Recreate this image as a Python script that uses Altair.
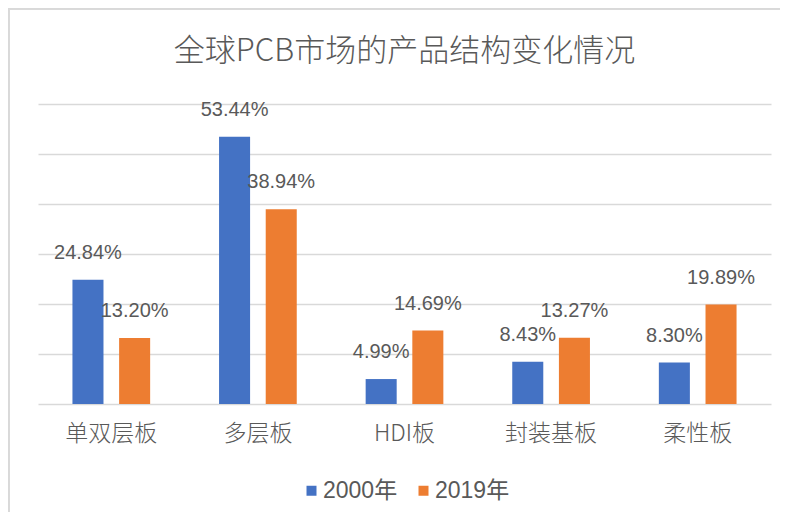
import altair as alt
import pandas as pd

categories = ["单双层板", "多层板", "HDI板", "封装基板", "柔性板"]
series = ["2000年", "2019年"]
values_2000 = [24.84, 53.44, 4.99, 8.43, 8.30]
values_2019 = [13.20, 38.94, 14.69, 13.27, 19.89]
colors = ["#4472C4", "#ED7D31"]
y_ticks = [0, 10, 20, 30, 40, 50, 60]

rows = []
for c, a, b in zip(categories, values_2000, values_2019):
    rows.append({"cat": c, "year": series[0], "v": a})
    rows.append({"cat": c, "year": series[1], "v": b})
df = pd.DataFrame(rows)

x = alt.X(
    "cat:N", sort=categories, title=None,
    scale=alt.Scale(paddingInner=0.47, paddingOuter=0.235),
    axis=alt.Axis(labelFont="Noto Sans CJK SC", labelFontSize=23, labelColor="#595959",
                  labelFontWeight=300, labelPadding=18, ticks=False, domain=False, labelAngle=0),
)
y = alt.Y(
    "v:Q", title=None,
    scale=alt.Scale(domain=[0, 60], nice=False, zero=True),
    axis=alt.Axis(values=y_ticks, labels=False, ticks=False, domain=False, grid=True,
                  gridColor="#d9d9d9", gridWidth=1.5),
)
xo = alt.XOffset("year:N", sort=series, scale=alt.Scale(paddingInner=0.335, paddingOuter=0))
color = alt.Color(
    "year:N", sort=series, scale=alt.Scale(domain=series, range=colors),
    legend=alt.Legend(title=None, orient="none", legendX=262, legendY=375, direction="horizontal",
                      symbolType="square", symbolSize=100, symbolStrokeWidth=0,
                      labelFont="Liberation Sans, Noto Sans CJK SC", labelFontSize=23,
                      labelColor="#595959", labelOffset=0, columnPadding=14, padding=0),
)

base = alt.Chart(df)

bars = base.mark_bar().encode(x=x, y=y, xOffset=xo, color=color)

labels = base.transform_calculate(
    lbl="format(datum.v, '.2f') + '%'"
).mark_text(dy=-27, baseline="middle", fontSize=20, font="Liberation Sans", color="#595959").encode(
    x=alt.X("cat:N", sort=categories), y="v:Q", xOffset=alt.XOffset("year:N", sort=series), text="lbl:N"
)

border_left = base.mark_rule(color="#d9d9d9", strokeWidth=2).encode(
    x=alt.value(-29.5), y=alt.value(-95.5), y2=alt.value(420)
)
border_top = base.mark_rule(color="#d9d9d9", strokeWidth=2).encode(
    x=alt.value(-30.5), x2=alt.value(760), y=alt.value(-95.5)
)

chart = alt.layer(bars, labels, border_left, border_top).properties(
    width=733,
    height=300,
    autosize="none",
    padding={"left": 30, "top": 96, "right": 9, "bottom": 108},
    title=alt.TitleParams(
        "全球PCB市场的产品结构变化情况", font="Noto Sans CJK SC", fontSize=31,
        fontWeight=300, color="#595959", anchor="middle", frame="group",
        offset=40, dy=100,
    ),
).configure_view(stroke=None)

chart.save("out.html", embed_options={"renderer": "svg", "actions": False})
